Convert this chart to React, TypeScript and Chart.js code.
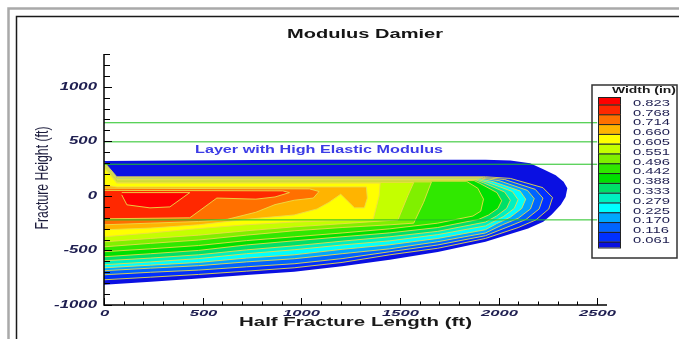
import React, { useEffect, useRef } from "react";
import { Chart, registerables } from "chart.js";

Chart.register(...registerables);

type Pt = [number, number];

// ---------- data ----------
const chartTitle = "Modulus Damier";
const xTitle = "Half Fracture Length (ft)";
const yTitle = "Fracture Height (ft)";
const legendTitle = "Width (in)";

const xMin = 0;
const xMax = 2550;
const yMin = -1000;
const yMax = 1300;
const minorStep = 100;
const majorStep = 500;

// contour thresholds (in)
const widthLevels = [0.061, 0.116, 0.17, 0.225, 0.279, 0.333, 0.388, 0.442, 0.496, 0.551, 0.605, 0.66, 0.714, 0.768, 0.823];

// band colours, from the fracture edge to the core
const bandColors = [
  "#0a10e2", "#0030ff", "#0064ff", "#00a8ff", "#00ffff", "#00f0c0", "#00e068", "#00e000",
  "#30e800", "#80f000", "#c4ff00", "#ffff00", "#ffb400", "#ff7000", "#ff2800", "#ff0000",
];

// high-modulus layer boundaries (ft)
const layerDepths = [670, 495, 290, -220];
const layerStartX = 0;
const layerEndX = 2500;
const layerLabel = "Layer with High Elastic Modulus";
const layerLabelX = 1090;
const layerLabelY = 421;

// contour outlines (x ft, y ft)
const edge0: Pt[] = [[0,320],[964,332],[1934,332],[2060,325],[2160,300],[2227,245],[2290,190],[2330,130],[2349,70],[2340,-10],[2316,-82],[2270,-170],[2227,-238],[2150,-300],[2060,-350],[1934,-420],[1692,-515],[1449,-585],[1207,-645],[964,-695],[722,-725],[479,-758],[237,-787],[0,-814]];
const w061: Pt[] = [[0,312],[65,175],[1934,175],[2060,160],[2225,75],[2274,-15],[2255,-120],[2190,-220],[2100,-290],[1934,-390],[1692,-480],[1449,-540],[1207,-610],[964,-659],[722,-690],[479,-720],[237,-745],[0,-769]];
const w116: Pt[] = [[0,306],[65,168],[1924,168],[2031,150],[2186,60],[2225,-20],[2206,-120],[2140,-215],[2060,-275],[1934,-365],[1692,-450],[1449,-512],[1207,-575],[964,-622],[722,-650],[479,-680],[237,-700],[0,-723]];
const w170: Pt[] = [[0,300],[65,162],[1915,162],[2002,140],[2147,50],[2181,-25],[2162,-120],[2100,-205],[2020,-265],[1934,-340],[1692,-420],[1449,-485],[1207,-530],[964,-576],[722,-605],[479,-640],[237,-662],[0,-686]];
const w225: Pt[] = [[0,295],[65,156],[1905,156],[1973,130],[2109,45],[2138,-30],[2118,-115],[2060,-195],[1990,-255],[1934,-310],[1692,-390],[1449,-448],[1207,-490],[964,-540],[722,-570],[479,-610],[237,-635],[0,-659]];
const w279: Pt[] = [[0,290],[65,150],[1895,150],[1944,125],[2070,40],[2099,-35],[2080,-115],[2025,-190],[1960,-250],[1934,-275],[1692,-355],[1449,-412],[1207,-450],[964,-494],[722,-530],[479,-575],[237,-605],[0,-631]];
const w333: Pt[] = [[0,285],[65,145],[1886,145],[1924,120],[2031,35],[2060,-40],[2041,-115],[1990,-185],[1934,-240],[1692,-325],[1449,-375],[1207,-415],[964,-458],[722,-495],[479,-540],[237,-570],[0,-595]];
const w388: Pt[] = [[0,280],[65,140],[1876,140],[1905,115],[1992,30],[2016,-45],[1997,-115],[1950,-175],[1900,-215],[1692,-290],[1449,-339],[1207,-375],[964,-412],[722,-450],[479,-500],[237,-530],[0,-558]];
const w442: Pt[] = [[0,275],[65,134],[1837,134],[1895,70],[1924,-30],[1910,-140],[1870,-185],[1692,-250],[1449,-302],[1207,-340],[964,-375],[722,-410],[479,-455],[237,-485],[0,-512]];
const w496: Pt[] = [[0,270],[65,128],[1660,128],[1620,-60],[1570,-250],[1449,-265],[1207,-290],[964,-320],[722,-360],[479,-405],[237,-435],[0,-467]];
const w551: Pt[] = [[0,265],[65,123],[1570,123],[1540,0],[1490,-220],[1207,-255],[964,-284],[722,-320],[479,-360],[237,-390],[0,-421]];
const w605: Pt[] = [[0,258],[65,117],[1400,117],[1395,0],[1365,-215],[1200,-225],[964,-240],[722,-265],[479,-300],[237,-340],[0,-375]];
const w660: Pt[] = [[0,100],[65,82],[1330,82],[1335,-20],[1320,-110],[1270,-110],[1200,15],[1140,-60],[1080,-120],[964,-175],[722,-215],[479,-265],[237,-295],[0,-311]];
const w714: Pt[] = [[0,70],[1042,64],[1090,40],[1061,-20],[964,-40],[867,-80],[770,-150],[625,-215],[479,-235],[237,-250],[0,-265]];
const w768: Pt[] = [[0,50],[906,46],[940,30],[867,-10],[770,-30],[572,-20],[435,-201],[0,-210]];
const w823: Pt[] = [[90,30],[435,30],[334,-101],[233,-110],[116,-82],[90,9]];

const outlines: Pt[][] = [edge0, w061, w116, w170, w225, w279, w333, w388, w442, w496, w551, w605, w660, w714, w768, w823];

// ---------- drawing helpers ----------
const SANS = '"Liberation Sans", Arial, sans-serif';
const TICK_COLOR = "#1e1e50";

function textW(ctx: CanvasRenderingContext2D, text: string, font: string) {
  ctx.save();
  ctx.font = font;
  const w = ctx.measureText(text).width;
  ctx.restore();
  return w;
}

function stretched(
  ctx: CanvasRenderingContext2D, text: string, x: number, y: number, font: string,
  color: string, sx: number, align: CanvasTextAlign = "center"
) {
  ctx.save();
  ctx.font = font;
  ctx.fillStyle = color;
  ctx.textAlign = align;
  ctx.textBaseline = "middle";
  ctx.translate(x, y);
  ctx.scale(sx, 1);
  ctx.fillText(text, 0, 0);
  ctx.restore();
}

const decorPlugin = {
  id: "decor",
  afterDraw(chart: any) {
    const ctx: CanvasRenderingContext2D = chart.ctx;
    const xs = chart.scales.x;
    const ys = chart.scales.y;
    const a = chart.chartArea;
    ctx.save();

    // outer frame
    ctx.strokeStyle = "#a9a9a9";
    ctx.lineWidth = 2.5;
    ctx.beginPath();
    ctx.moveTo(8.5, 400); ctx.lineTo(8.5, 8.5); ctx.lineTo(720, 8.5);
    ctx.stroke();
    ctx.strokeStyle = "#1a1a1a";
    ctx.lineWidth = 1.5;
    ctx.beginPath();
    ctx.moveTo(16.5, 400); ctx.lineTo(16.5, 16.5); ctx.lineTo(720, 16.5);
    ctx.stroke();

    // axes lines
    ctx.strokeStyle = "#000";
    ctx.lineWidth = 1.5;
    ctx.beginPath();
    ctx.moveTo(a.left, a.top); ctx.lineTo(a.left, a.bottom); ctx.lineTo(a.right, a.bottom);
    ctx.stroke();

    // ticks (inward) + labels
    const tickFont = `italic bold 10px ${SANS}`;
    ctx.lineWidth = 1;
    for (const t of ys.ticks) {
      const v = t.value;
      const py = Math.round(ys.getPixelForValue(v)) + 0.5;
      const major = Math.abs(v % majorStep) < 1e-6;
      ctx.beginPath();
      ctx.moveTo(a.left, py);
      ctx.lineTo(a.left + (major ? 8 : 6), py);
      ctx.stroke();
      if (major) stretched(ctx, String(v), a.left - 7, py, tickFont, TICK_COLOR, 1.68, "right");
    }
    const xTickFont = `italic bold 9.5px ${SANS}`;
    for (const t of xs.ticks) {
      const v = t.value;
      const px = Math.round(xs.getPixelForValue(v)) + 0.5;
      const major = Math.abs(v % majorStep) < 1e-6;
      ctx.beginPath();
      ctx.moveTo(px, a.bottom);
      ctx.lineTo(px, a.bottom - (major ? 7 : 3.5));
      ctx.stroke();
      if (major) stretched(ctx, String(v), px, a.bottom + 8, xTickFont, TICK_COLOR, 1.75, "center");
    }

    // title
    const tFont = `bold 12.5px ${SANS}`;
    stretched(ctx, chartTitle, 365, 35, tFont, "#151515", 156 / textW(ctx, chartTitle, tFont));

    // x axis title
    const xf = `bold 12.5px ${SANS}`;
    stretched(ctx, xTitle, (a.left + a.right) / 2, 323, xf, "#1a1a1a", 233 / textW(ctx, xTitle, xf));

    // y axis title (rotated, stretched horizontally)
    const yf = `12px ${SANS}`;
    const yLen = textW(ctx, yTitle, yf);
    ctx.save();
    ctx.font = yf;
    ctx.fillStyle = "#1c1c3c";
    ctx.textAlign = "center";
    ctx.textBaseline = "middle";
    ctx.translate(43, 178);
    ctx.scale(1.55, 103 / yLen);
    ctx.rotate(-Math.PI / 2);
    ctx.fillText(yTitle, 0, 0);
    ctx.restore();

    // layer label
    const lf = `bold 10.8px ${SANS}`;
    stretched(ctx, layerLabel, xs.getPixelForValue(layerLabelX), ys.getPixelForValue(layerLabelY), lf, "#3c3ce6", 248 / textW(ctx, layerLabel, lf));

    // legend box
    ctx.strokeStyle = "#333";
    ctx.lineWidth = 1.5;
    ctx.strokeRect(592, 85, 85, 173);
    const wf = `bold 8.5px ${SANS}`;
    stretched(ctx, legendTitle, 644, 90.5, wf, "#1a1a1a", 64 / textW(ctx, legendTitle, wf));

    // colour scale
    const scaleColors = [...bandColors].reverse();
    const bounds: number[] = [97];
    for (let i = 0; i < widthLevels.length; i++) bounds.push(104.5 + 9.8 * i);
    bounds.push(247.5);
    ctx.lineWidth = 1;
    ctx.strokeStyle = "#222";
    for (let i = 0; i < scaleColors.length; i++) {
      ctx.fillStyle = scaleColors[i];
      ctx.fillRect(598, bounds[i], 23, bounds[i + 1] - bounds[i]);
      ctx.strokeRect(598.5, bounds[i] + 0.5, 22, bounds[i + 1] - bounds[i]);
    }
    const labels = [...widthLevels].reverse().map((v) => v.toFixed(3));
    const lbf = `8.5px ${SANS}`;
    const lsx = 37 / textW(ctx, "0.823", lbf);
    labels.forEach((s, i) => {
      stretched(ctx, s, 633, bounds[i + 1] - 1, lbf, TICK_COLOR, lsx, "left");
    });

    ctx.restore();
  },
};

export default function App() {
  const ref = useRef<HTMLCanvasElement>(null);

  useEffect(() => {
    const canvas = ref.current;
    if (!canvas) return;

    const contourSets = outlines.map((pts, i) => ({
      label: i === 0 ? "edge" : `w >= ${widthLevels[i - 1]}`,
      data: pts.map(([x, y]) => ({ x, y })),
      backgroundColor: bandColors[i],
      borderColor: i === 0 ? "rgba(0,0,0,0)" : "rgba(236,220,70,0.9)",
      borderWidth: i === 0 ? 0 : 1,
      fill: "shape" as const,
      pointRadius: 0,
      tension: 0,
    }));

    const layerSets = layerDepths.map((d) => ({
      label: `layer ${d}`,
      data: [{ x: layerStartX, y: d }, { x: layerEndX, y: d }],
      borderColor: "#22c322",
      borderWidth: 1,
      fill: false,
      pointRadius: 0,
    }));

    // datasets are drawn last-to-first: put the outer edge last
    const datasets = [...layerSets, ...contourSets.slice().reverse()];

    const chart = new Chart(canvas, {
      type: "line",
      data: { datasets: datasets as any },
      options: {
        animation: false,
        responsive: false,
        devicePixelRatio: 1,
        events: [],
        layout: { padding: { left: 0, right: 72, top: 54, bottom: 0 } },
        plugins: {
          legend: { display: false },
          tooltip: { enabled: false },
          title: { display: false },
        },
        elements: { point: { radius: 0, hitRadius: 0 }, line: { tension: 0 } },
        scales: {
          x: {
            type: "linear",
            min: xMin,
            max: xMax,
            ticks: { stepSize: minorStep, display: false, autoSkip: false, includeBounds: false },
            grid: { display: false, drawTicks: false },
            border: { display: false },
            afterFit: (s: any) => { s.height = 34; },
          },
          y: {
            type: "linear",
            min: yMin,
            max: yMax,
            ticks: { stepSize: minorStep, display: false, autoSkip: false, includeBounds: false },
            grid: { display: false, drawTicks: false },
            border: { display: false },
            afterFit: (s: any) => { s.width = 104; },
          },
        },
      },
      plugins: [decorPlugin],
    });

    return () => chart.destroy();
  }, []);

  return (
    <div style={{ position: "fixed", left: 0, top: 0, width: 679, height: 339, background: "#fff" }}>
      <canvas ref={ref} width={679} height={339} style={{ display: "block", width: 679, height: 339 }} />
    </div>
  );
}
